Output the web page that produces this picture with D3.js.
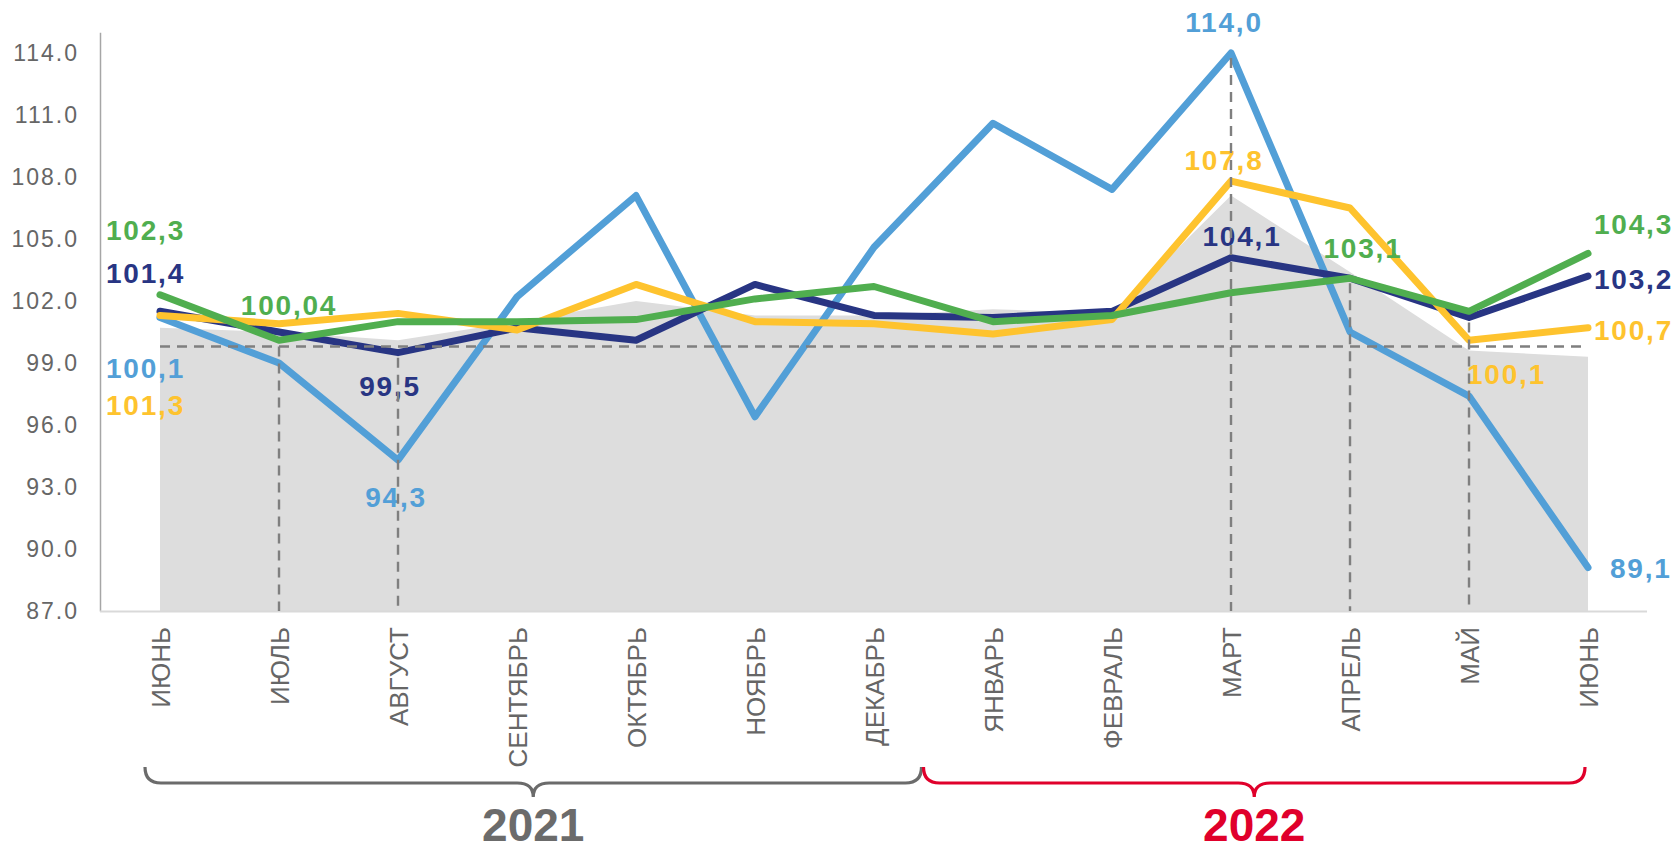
<!DOCTYPE html>
<html>
<head>
<meta charset="utf-8">
<script src="https://cdn.jsdelivr.net/npm/d3@7"></script>
<style>
  html, body { margin: 0; padding: 0; background: #fff; }
  svg { display: block; font-family: "Liberation Sans", Arial, sans-serif; }
</style>
</head>
<body>
<svg id="chart" width="1677" height="852"></svg>
<script>
// month categories (two years)
const months = ['ИЮНЬ', 'ИЮЛЬ', 'АВГУСТ', 'СЕНТЯБРЬ', 'ОКТЯБРЬ', 'НОЯБРЬ', 'ДЕКАБРЬ',
  'ЯНВАРЬ', 'ФЕВРАЛЬ', 'МАРТ', 'АПРЕЛЬ', 'МАЙ', 'ИЮНЬ'];
const years = ['2021', '2022'];
const yearMonthCounts = [7, 6];
const yTicks = [87, 90, 93, 96, 99, 102, 105, 108, 111, 114];

// series values
const greyArea  = [100.7, 100.5, 100.1, 101.0, 102.0, 101.3, 101.3, 101.6, 101.4, 107.1, 103.4, 99.6, 99.3];
const lightBlue = [101.2, 99.0, 94.3, 102.2, 107.1, 96.4, 104.6, 110.6, 107.4, 114.0, 100.5, 97.4, 89.1];
const navy      = [101.5, 100.5, 99.5, 100.7, 100.1, 102.8, 101.3, 101.2, 101.5, 104.1, 103.1, 101.2, 103.2];
const yellow    = [101.3, 100.9, 101.4, 100.6, 102.8, 101.0, 100.9, 100.4, 101.1, 107.8, 106.5, 100.1, 100.7];
const green     = [102.3, 100.1, 101.0, 101.0, 101.1, 102.1, 102.7, 101.0, 101.3, 102.4, 103.1, 101.5, 104.3];
const guideValue = 99.8;

// data labels: series, month index, text
const labelSeries = ['green', 'navy', 'blue', 'yellow', 'green', 'navy', 'blue', 'blue', 'yellow', 'navy', 'green', 'yellow', 'green', 'navy', 'yellow', 'blue'];
const labelIndex  = [0, 0, 0, 0, 1, 2, 2, 9, 9, 9, 10, 11, 12, 12, 12, 12];
const labelTexts  = ['102,3', '101,4', '100,1', '101,3', '100,04', '99,5', '94,3', '114,0', '107,8', '104,1', '103,1', '100,1', '104,3', '103,2', '100,7', '89,1'];

// vertical drop lines: month index and the series they start from
const dropIndex  = [1, 2, 9, 10, 11];
const dropSource = ['guide', 'navy', 'blue', 'navy', 'navy'];

// ---- layout & styles ----
const seriesValues = { blue: lightBlue, navy: navy, yellow: yellow, green: green };
const colors = { blue: '#529fd7', navy: '#283583', yellow: '#fec32e', green: '#50ae4f' };
const drawOrder = ['blue', 'navy', 'yellow', 'green'];

// label placement relative to its point: [anchor, dx, dy]
const labelOffsets = [
  ['start', -54, -65], ['start', -54, -38], ['start', -54, 50], ['start', -54, 89],
  ['middle', 10, -35], ['middle', -8, 33], ['middle', -2, 37],
  ['middle', -7, -31], ['middle', -7, -21], ['middle', 11, -22], ['middle', 13, -30],
  ['start', -2, 34], ['start', 6, -30], ['start', 6, 3], ['start', 6, 2], ['start', 22, 0]
];

const svg = d3.select('#chart');
const axisLeftX = 100;
const axisRightX = 1647;

const x = d3.scalePoint()
  .domain(d3.range(months.length))
  .range([160, 1588]);

const y = d3.scaleLinear()
  .domain([87, 115])
  .range([611, 32.3]);

// grey background area
const area = d3.area()
  .x((d, i) => x(i))
  .y0(y(87))
  .y1(d => y(d));

svg.append('path')
  .datum(greyArea)
  .attr('d', area)
  .attr('fill', '#dddddd');

// y axis
const yAxis = svg.append('g')
  .attr('transform', `translate(${axisLeftX},0)`)
  .call(d3.axisLeft(y).tickValues(yTicks).tickSize(0).tickPadding(21).tickFormat(d3.format('.1f')));
yAxis.select('.domain').attr('stroke', '#a6a6a6').attr('stroke-width', 1.5);
yAxis.selectAll('text')
  .attr('fill', '#666666')
  .style('font-size', '23px')
  .style('letter-spacing', '2px')
  .style('font-family', '"Liberation Sans", Arial, sans-serif');

// x axis line
svg.append('line')
  .attr('x1', axisLeftX).attr('x2', axisRightX)
  .attr('y1', y(87) + 0.5).attr('y2', y(87) + 0.5)
  .attr('stroke', '#d9d9d9')
  .attr('stroke-width', 2);

// month labels
const xAxis = svg.append('g')
  .attr('transform', `translate(0,${y(87)})`)
  .call(d3.axisBottom(x).tickSize(0).tickFormat(i => months[i]));
xAxis.select('.domain').remove();
xAxis.selectAll('text')
  .attr('transform', 'rotate(-90)')
  .attr('x', -16)
  .attr('y', 0)
  .attr('dy', '0.36em')
  .attr('fill', '#666666')
  .style('text-anchor', 'end')
  .style('font-size', '26px')
  .style('font-family', '"Liberation Sans", Arial, sans-serif');

// series lines
const line = d3.line()
  .x((d, i) => x(i))
  .y(d => y(d));

drawOrder.forEach(key => {
  svg.append('path')
    .datum(seriesValues[key])
    .attr('d', line)
    .attr('fill', 'none')
    .attr('stroke', colors[key])
    .attr('stroke-width', 7)
    .attr('stroke-linejoin', 'round')
    .attr('stroke-linecap', 'round');
});

// data labels
labelTexts.forEach((t, k) => {
  const key = labelSeries[k];
  const i = labelIndex[k];
  const [anchor, dx, dy] = labelOffsets[k];
  svg.append('text')
    .attr('x', x(i) + dx)
    .attr('y', y(seriesValues[key][i]) + dy)
    .attr('dy', '0.36em')
    .attr('text-anchor', anchor)
    .attr('fill', colors[key])
    .style('font-size', '28px')
    .style('font-weight', 'bold')
    .style('letter-spacing', '1.8px')
    .text(t);
});

// dashed guide lines
const dashStyle = sel => sel
  .attr('stroke', '#7f7f7f')
  .attr('stroke-width', 2.4)
  .attr('stroke-dasharray', '10,7')
  .attr('fill', 'none');

svg.append('line')
  .attr('x1', x(0)).attr('x2', x(months.length - 1))
  .attr('y1', y(guideValue)).attr('y2', y(guideValue))
  .call(dashStyle);

dropIndex.forEach((i, k) => {
  const src = dropSource[k];
  const v = src === 'guide' ? guideValue : seriesValues[src][i];
  svg.append('line')
    .attr('x1', x(i)).attr('x2', x(i))
    .attr('y1', y(v) + (src === 'guide' ? 0 : 5))
    .attr('y2', y(87))
    .call(dashStyle);
});

// year braces
const braceColors = ['#6b6b6b', '#e0002b'];
const yTop = 767, yLine = 783, yTip = 797, r = 16;
let startIdx = 0;
years.forEach((yr, k) => {
  const endIdx = startIdx + yearMonthCounts[k] - 1;
  const step = x.step();
  const x0 = k === 0 ? x(startIdx) - 15 : x(startIdx) - step / 2 - 10;
  const x1 = k === years.length - 1 ? x(endIdx) - 3 : x(endIdx) + step / 2 - 12;
  const tip = (x0 + x1) / 2;
  const path = d3.path();
  path.moveTo(x0, yTop);
  path.quadraticCurveTo(x0, yLine, x0 + r, yLine);
  path.lineTo(tip - r, yLine);
  path.quadraticCurveTo(tip, yLine, tip, yTip);
  path.quadraticCurveTo(tip, yLine, tip + r, yLine);
  path.lineTo(x1 - r, yLine);
  path.quadraticCurveTo(x1, yLine, x1, yTop);
  svg.append('path')
    .attr('d', path.toString())
    .attr('fill', 'none')
    .attr('stroke', braceColors[k])
    .attr('stroke-width', 3.2);

  svg.append('text')
    .attr('x', tip)
    .attr('y', 841)
    .attr('text-anchor', 'middle')
    .attr('fill', braceColors[k])
    .style('font-size', '46px')
    .style('font-weight', 'bold')
    .text(yr);

  startIdx = endIdx + 1;
});
</script>
</body>
</html>
